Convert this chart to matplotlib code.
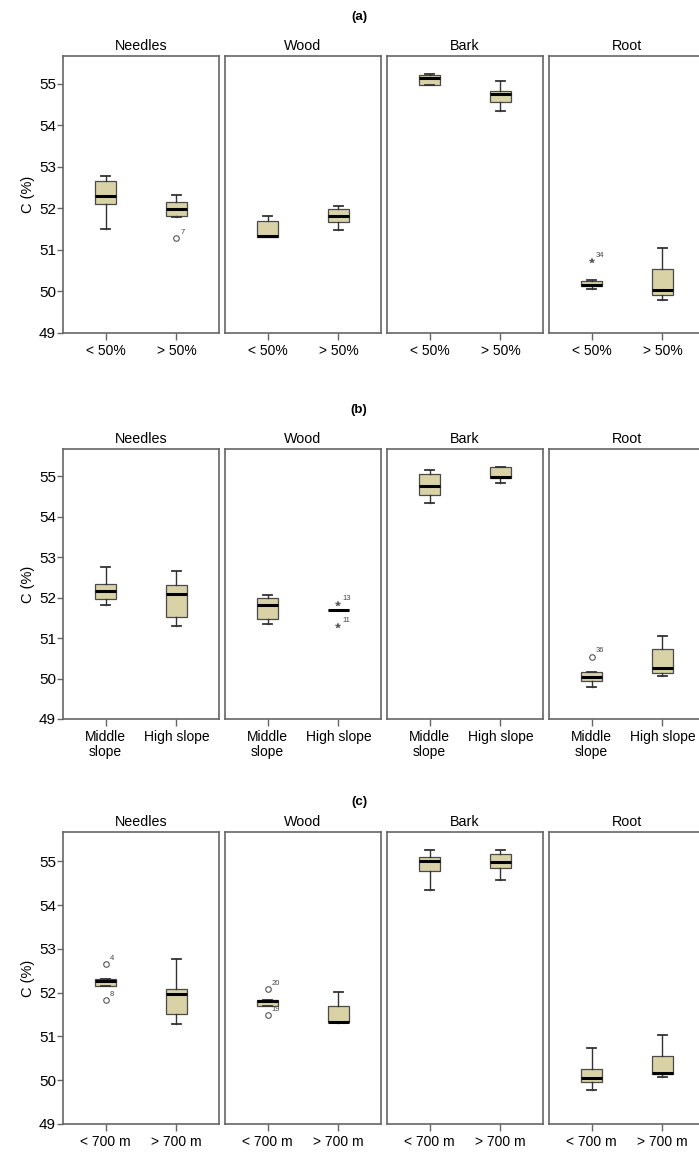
import numpy as np
import matplotlib.pyplot as plt

plt.rcParams['font.family'] = ['Liberation Sans', 'DejaVu Sans']

tissues = ['Needles', 'Wood', 'Bark', 'Root']
panel_names = ['(a)', '(b)', '(c)']
groups = [['< 50%', '> 50%'],
          ['Middle\nslope', 'High slope'],
          ['< 700 m', '> 700 m']]

# box summaries, rows = tissue, cols = group
a_lo = [[51.50, 51.80], [51.31, 51.47], [54.97, 54.35], [50.05, 49.79]]
a_q1 = [[52.10, 51.81], [51.31, 51.67], [54.97, 54.56], [50.12, 49.92]]
a_med = [[52.29, 51.98], [51.33, 51.81], [55.14, 54.76], [50.16, 50.03]]
a_q3 = [[52.65, 52.16], [51.69, 51.99], [55.21, 54.83], [50.26, 50.54]]
a_hi = [[52.77, 52.33], [51.82, 52.06], [55.24, 55.07], [50.27, 51.04]]

b_lo = [[51.81, 51.29], [51.34, 51.69], [54.33, 54.83], [49.80, 50.07]]
b_q1 = [[51.97, 51.51], [51.47, 51.69], [54.54, 54.96], [49.93, 50.13]]
b_med = [[52.16, 52.10], [51.81, 51.69], [54.76, 54.97], [50.04, 50.27]]
b_q3 = [[52.33, 52.30], [51.99, 51.69], [55.06, 55.22], [50.16, 50.73]]
b_hi = [[52.76, 52.65], [52.06, 51.69], [55.14, 55.22], [50.16, 51.05]]

c_lo = [[52.15, 51.29], [51.70, 51.31], [54.35, 54.57], [49.78, 50.07]]
c_q1 = [[52.15, 51.52], [51.70, 51.33], [54.77, 54.84], [49.95, 50.14]]
c_med = [[52.26, 51.98], [51.82, 51.33], [55.00, 54.99], [50.04, 50.17]]
c_q3 = [[52.32, 52.09], [51.84, 51.69], [55.09, 55.17], [50.26, 50.55]]
c_hi = [[52.32, 52.78], [51.84, 52.01], [55.25, 55.25], [50.73, 51.03]]

# outliers: (tissue, group, value, marker, case label)
a_out = [(0, 1, 51.29, 'o', '7'), (3, 0, 50.74, '*', '34')]
b_out = [(1, 1, 51.83, '*', '13'), (1, 1, 51.29, '*', '11'), (3, 0, 50.54, 'o', '36')]
c_out = [(0, 0, 52.66, 'o', '4'), (0, 0, 51.83, 'o', '8'),
         (1, 0, 52.08, 'o', '20'), (1, 0, 51.48, 'o', '19')]

summ = [(a_lo, a_q1, a_med, a_q3, a_hi, a_out),
        (b_lo, b_q1, b_med, b_q3, b_hi, b_out),
        (c_lo, c_q1, c_med, c_q3, c_hi, c_out)]

W, H = 699, 1153
fig = plt.figure(figsize=(W / 100, H / 100), dpi=100)

lefts = [63, 225, 387, 549]
width = 156
rows = [(56, 333, 17), (449, 719, 410), (832, 1124, 802)]  # top, bottom, title y (px)

fill = '#D8D2A6'
edge = '#4a4a4a'
frame = '#666666'

for p in range(3):
    lo, q1, med, q3, hi, outs = summ[p]
    top, bot, ty = rows[p]
    fig.text(359 / W, 1 - ty / H, panel_names[p], ha='center', va='center',
             fontsize=9.5, fontweight='bold')
    for t in range(4):
        ax = fig.add_axes([lefts[t] / W, 1 - bot / H, width / W, (bot - top) / H])
        stats = []
        for g in range(2):
            stats.append(dict(whislo=lo[t][g], q1=q1[t][g], med=med[t][g],
                              q3=q3[t][g], whishi=hi[t][g], fliers=[]))
        ax.bxp(stats, positions=[0, 1], widths=0.3, capwidths=0.13,
               showfliers=False, patch_artist=True,
               boxprops=dict(facecolor=fill, edgecolor=edge, linewidth=0.9),
               medianprops=dict(color='black', linewidth=2.2),
               whiskerprops=dict(color='#333333', linewidth=1),
               capprops=dict(color='#333333', linewidth=1.3))
        for (tt, g, v, m, lab) in outs:
            if tt != t:
                continue
            if m == 'o':
                ax.plot(g, v, 'o', ms=4, mfc='white', mec='#555555', mew=0.8)
            else:
                ax.plot(g, v, '*', ms=4, color='#555555', mew=0.3)
            ax.annotate(lab, (g, v), xytext=(3, 3), textcoords='offset points',
                        fontsize=5.5, color='#444444')
        ax.set_xlim(-0.6, 1.6)
        ax.set_ylim(49, 55.67)
        ax.set_xticks([0, 1])
        ax.set_xticklabels(groups[p], fontsize=10, linespacing=1.1)
        ax.tick_params(axis='x', length=5, width=1, color=frame, pad=3)
        if t == 0:
            ax.set_yticks(np.arange(49, 56))
            ax.tick_params(axis='y', length=4, width=1, color=frame,
                           labelsize=11, pad=1)
            ax.set_ylabel('C (%)', fontsize=10.5, labelpad=3)
        else:
            ax.set_yticks([])
        for s in ax.spines.values():
            s.set_color(frame)
            s.set_linewidth(1.2)
        ax.set_title(tissues[t], fontsize=10.3, pad=4)

fig.savefig('out.png', dpi=100)
